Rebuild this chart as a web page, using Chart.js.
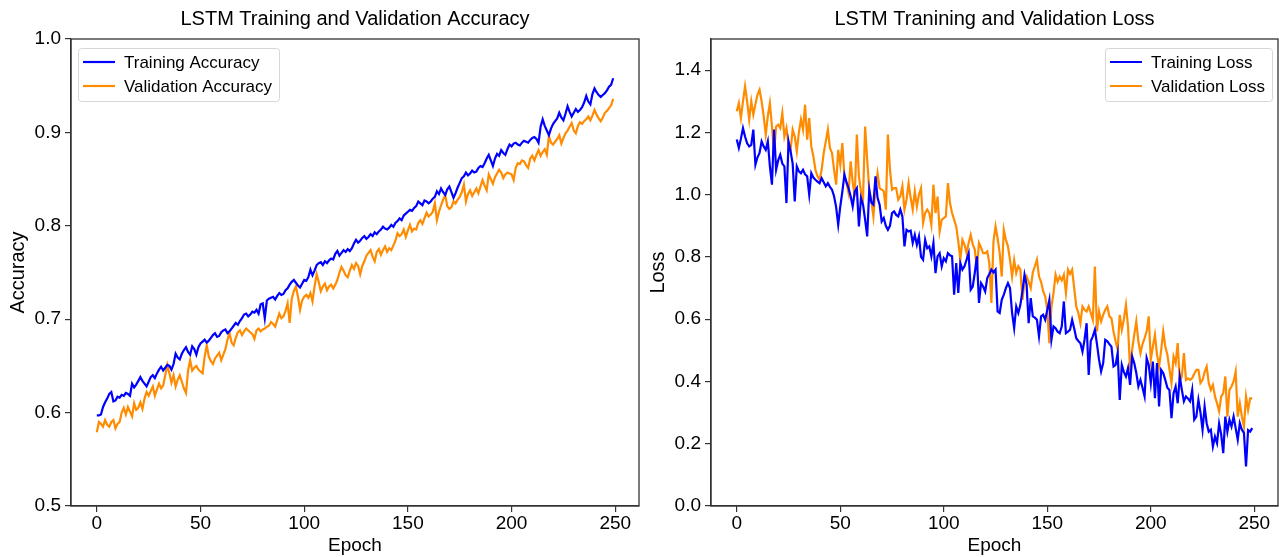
<!DOCTYPE html>
<html>
<head>
<meta charset="utf-8">
<script src="https://cdn.jsdelivr.net/npm/chart.js@4.4.0/dist/chart.umd.min.js"></script>
<style>
  html, body { margin: 0; padding: 0; background: #fff; }
  #wrap { position: relative; width: 1279px; height: 557px; }
  .box { position: absolute; top: 0; height: 557px; }
  #boxAcc { left: 0; width: 640px; }
  #boxLoss { left: 640px; width: 639px; }
</style>
</head>
<body>
<div id="wrap">
  <div class="box" id="boxAcc"><canvas id="graficoAcc"></canvas></div>
  <div class="box" id="boxLoss"><canvas id="graficoLoss"></canvas></div>
</div>
<script>
// valores, uma entrada por epoch (0..249)
const trainAcc = [
  0.597, 0.597, 0.598, 0.606, 0.611, 0.615, 0.620, 0.622, 0.612, 0.613,
  0.617, 0.616, 0.619, 0.618, 0.621, 0.620, 0.618, 0.631, 0.627, 0.630,
  0.634, 0.638, 0.634, 0.631, 0.628, 0.633, 0.638, 0.640, 0.637, 0.642,
  0.646, 0.649, 0.645, 0.648, 0.651, 0.650, 0.646, 0.652, 0.663, 0.659,
  0.657, 0.663, 0.667, 0.670, 0.665, 0.662, 0.671, 0.668, 0.662, 0.670,
  0.674, 0.676, 0.678, 0.675, 0.677, 0.680, 0.683, 0.685, 0.681, 0.682,
  0.686, 0.688, 0.689, 0.685, 0.687, 0.690, 0.693, 0.696, 0.694, 0.698,
  0.701, 0.705, 0.706, 0.703, 0.705, 0.708, 0.707, 0.710, 0.706, 0.716,
  0.717, 0.701, 0.720, 0.722, 0.723, 0.724, 0.721, 0.725, 0.728, 0.726,
  0.727, 0.731, 0.733, 0.737, 0.740, 0.742, 0.739, 0.736, 0.734, 0.738,
  0.742, 0.741, 0.745, 0.753, 0.747, 0.752, 0.758, 0.760, 0.761, 0.758,
  0.762, 0.760, 0.763, 0.765, 0.764, 0.770, 0.773, 0.768, 0.771, 0.774,
  0.772, 0.775, 0.773, 0.776, 0.781, 0.785, 0.782, 0.784, 0.787, 0.789,
  0.786, 0.788, 0.791, 0.789, 0.793, 0.791, 0.794, 0.796, 0.799, 0.797,
  0.796, 0.798, 0.801, 0.799, 0.803, 0.805, 0.808, 0.806, 0.811, 0.813,
  0.815, 0.817, 0.816, 0.819, 0.821, 0.826, 0.824, 0.822, 0.827, 0.826,
  0.824, 0.826, 0.829, 0.831, 0.837, 0.834, 0.840, 0.836, 0.833, 0.839,
  0.842, 0.836, 0.830, 0.835, 0.841, 0.846, 0.851, 0.853, 0.857, 0.854,
  0.856, 0.859, 0.857, 0.858, 0.862, 0.864, 0.863, 0.867, 0.872, 0.876,
  0.870, 0.864, 0.872, 0.877, 0.875, 0.881, 0.878, 0.876, 0.882, 0.887,
  0.885, 0.888, 0.889, 0.887, 0.886, 0.889, 0.891, 0.890, 0.889, 0.892,
  0.894, 0.895, 0.893, 0.889, 0.906, 0.914, 0.907, 0.902, 0.897, 0.904,
  0.909, 0.912, 0.915, 0.921, 0.916, 0.913, 0.920, 0.928, 0.922, 0.917,
  0.921, 0.925, 0.922, 0.924, 0.927, 0.932, 0.939, 0.933, 0.930, 0.941,
  0.947, 0.943, 0.940, 0.938, 0.940, 0.942, 0.945, 0.949, 0.951, 0.958
];
const valAcc = [
  0.579, 0.590, 0.588, 0.585, 0.592, 0.587, 0.585, 0.590, 0.592, 0.583,
  0.588, 0.590, 0.600, 0.605, 0.598, 0.606, 0.601, 0.596, 0.610, 0.603,
  0.605, 0.611, 0.604, 0.615, 0.622, 0.618, 0.623, 0.628, 0.618, 0.625,
  0.631, 0.626, 0.629, 0.640, 0.651, 0.642, 0.632, 0.640, 0.628, 0.635,
  0.640, 0.633, 0.626, 0.621, 0.645, 0.656, 0.645, 0.648, 0.650, 0.646,
  0.644, 0.642, 0.660, 0.672, 0.660, 0.655, 0.652, 0.658, 0.661, 0.664,
  0.656, 0.662, 0.668, 0.678, 0.685, 0.675, 0.672, 0.680, 0.686, 0.688,
  0.683, 0.687, 0.690, 0.688, 0.686, 0.684, 0.679, 0.688, 0.690, 0.687,
  0.689, 0.690, 0.692, 0.693, 0.697, 0.695, 0.692, 0.699, 0.706, 0.701,
  0.703, 0.709, 0.717, 0.696, 0.722, 0.730, 0.735, 0.724, 0.710, 0.720,
  0.724, 0.726, 0.723, 0.728, 0.719, 0.735, 0.748, 0.740, 0.730, 0.735,
  0.738, 0.731, 0.735, 0.737, 0.733, 0.737, 0.742, 0.750, 0.756, 0.752,
  0.747, 0.745, 0.752, 0.758, 0.754, 0.760, 0.757, 0.748, 0.757, 0.762,
  0.768, 0.771, 0.774, 0.767, 0.762, 0.772, 0.775, 0.769, 0.774, 0.778,
  0.772, 0.776, 0.774, 0.779, 0.784, 0.792, 0.789, 0.791, 0.796, 0.788,
  0.795, 0.801, 0.794, 0.797, 0.796, 0.803, 0.806, 0.802, 0.808, 0.814,
  0.810, 0.812, 0.815, 0.824, 0.806, 0.815, 0.822, 0.828, 0.833, 0.821,
  0.818, 0.820, 0.826, 0.824, 0.828, 0.831, 0.836, 0.844, 0.826, 0.834,
  0.838, 0.832, 0.836, 0.840, 0.835, 0.842, 0.849, 0.843, 0.838, 0.855,
  0.850, 0.845, 0.852, 0.856, 0.860, 0.857, 0.851, 0.855, 0.857, 0.856,
  0.855, 0.849, 0.862, 0.867, 0.866, 0.870, 0.869, 0.865, 0.862, 0.872,
  0.875, 0.870, 0.876, 0.881, 0.875, 0.879, 0.882, 0.876, 0.896, 0.889,
  0.887, 0.890, 0.893, 0.897, 0.888, 0.894, 0.899, 0.902, 0.906, 0.910,
  0.902, 0.899, 0.907, 0.911, 0.909, 0.912, 0.914, 0.917, 0.913, 0.918,
  0.924, 0.919, 0.915, 0.912, 0.916, 0.921, 0.923, 0.926, 0.929, 0.936
];
const trainLoss = [
  1.177, 1.150, 1.180, 1.214, 1.187, 1.165, 1.155, 1.160, 1.209, 1.096,
  1.120, 1.134, 1.171, 1.155, 1.144, 1.171, 1.091, 1.032, 1.209, 1.080,
  1.110, 1.128, 1.100, 1.091, 0.973, 1.171, 1.139, 1.100, 0.978, 1.091,
  1.075, 1.069, 1.080, 1.065, 1.059, 1.000, 1.069, 1.055, 1.048, 1.042,
  1.037, 1.053, 1.040, 1.027, 1.037, 1.025, 1.016, 0.995, 0.960, 0.903,
  0.962, 1.010, 1.064, 1.040, 1.021, 0.995, 0.962, 1.010, 1.021, 0.898,
  0.990, 0.968, 0.920, 0.866, 1.016, 0.975, 0.968, 1.059, 0.990, 0.968,
  0.914, 0.925, 0.900, 0.887, 0.900, 0.941, 0.946, 0.935, 0.930, 0.952,
  0.930, 0.834, 0.887, 0.882, 0.885, 0.845, 0.871, 0.839, 0.866, 0.800,
  0.791, 0.855, 0.828, 0.834, 0.802, 0.845, 0.748, 0.802, 0.812, 0.770,
  0.796, 0.786, 0.812, 0.805, 0.802, 0.679, 0.780, 0.684, 0.780, 0.759,
  0.770, 0.791, 0.812, 0.695, 0.705, 0.750, 0.802, 0.652, 0.716, 0.705,
  0.689, 0.732, 0.745, 0.759, 0.750, 0.759, 0.625, 0.620, 0.662, 0.679,
  0.700, 0.716, 0.700, 0.620, 0.571, 0.641, 0.620, 0.646, 0.690, 0.743,
  0.711, 0.587, 0.668, 0.609, 0.605, 0.598, 0.545, 0.609, 0.614, 0.598,
  0.630, 0.662, 0.534, 0.577, 0.571, 0.560, 0.555, 0.577, 0.657, 0.555,
  0.560, 0.566, 0.598, 0.570, 0.539, 0.530, 0.523, 0.496, 0.534, 0.587,
  0.421, 0.530, 0.545, 0.566, 0.520, 0.470, 0.432, 0.459, 0.534, 0.529,
  0.520, 0.512, 0.448, 0.453, 0.491, 0.341, 0.453, 0.430, 0.416, 0.443,
  0.389, 0.480, 0.459, 0.427, 0.384, 0.405, 0.380, 0.352, 0.475, 0.453,
  0.395, 0.464, 0.346, 0.459, 0.320, 0.437, 0.427, 0.405, 0.380, 0.373,
  0.282, 0.362, 0.384, 0.330, 0.416, 0.373, 0.336, 0.352, 0.345, 0.336,
  0.373, 0.277, 0.287, 0.341, 0.300, 0.245, 0.320, 0.266, 0.239, 0.245,
  0.191, 0.223, 0.202, 0.265, 0.230, 0.170, 0.287, 0.239, 0.277, 0.255,
  0.287, 0.250, 0.213, 0.266, 0.245, 0.235, 0.127, 0.244, 0.239, 0.250
];
const valLoss = [
  1.268, 1.294, 1.246, 1.300, 1.348, 1.300, 1.241, 1.300, 1.257, 1.290,
  1.321, 1.337, 1.300, 1.252, 1.193, 1.252, 1.294, 1.219, 1.134, 1.219,
  1.225, 1.214, 1.262, 1.187, 1.214, 1.160, 1.144, 1.209, 1.187, 1.139,
  1.200, 1.241, 1.209, 1.289, 1.177, 1.246, 1.155, 1.123, 1.080, 1.059,
  1.048, 1.080, 1.134, 1.171, 1.209, 1.150, 1.134, 1.080, 1.032, 1.144,
  1.096, 1.166, 1.059, 1.037, 1.005, 1.107, 1.040, 0.995, 1.193, 1.059,
  1.010, 0.989, 1.219, 1.112, 1.016, 0.980, 0.930, 1.021, 1.069, 1.021,
  1.016, 1.011, 0.952, 1.193, 1.080, 1.016, 1.021, 1.021, 0.984, 0.995,
  1.027, 0.952, 0.984, 1.037, 0.990, 0.952, 1.011, 0.962, 1.000, 1.021,
  0.909, 0.941, 0.952, 0.941, 0.903, 1.032, 0.941, 0.994, 0.882, 0.919,
  0.925, 0.930, 1.037, 0.973, 0.941, 0.920, 0.898, 0.850, 0.791, 0.855,
  0.840, 0.812, 0.845, 0.871, 0.840, 0.823, 0.759, 0.845, 0.830, 0.812,
  0.812, 0.818, 0.780, 0.652, 0.850, 0.898, 0.860, 0.812, 0.737, 0.887,
  0.855, 0.834, 0.790, 0.737, 0.790, 0.748, 0.770, 0.759, 0.662, 0.720,
  0.737, 0.720, 0.700, 0.750, 0.770, 0.791, 0.737, 0.720, 0.690, 0.673,
  0.630, 0.523, 0.640, 0.684, 0.743, 0.720, 0.737, 0.725, 0.743, 0.684,
  0.759, 0.745, 0.759, 0.700, 0.641, 0.620, 0.587, 0.641, 0.630, 0.625,
  0.641, 0.620, 0.598, 0.769, 0.561, 0.625, 0.593, 0.614, 0.630, 0.641,
  0.609, 0.603, 0.560, 0.529, 0.502, 0.614, 0.566, 0.600, 0.646, 0.577,
  0.437, 0.502, 0.550, 0.593, 0.529, 0.491, 0.520, 0.539, 0.561, 0.609,
  0.470, 0.512, 0.550, 0.486, 0.448, 0.500, 0.561, 0.512, 0.486, 0.440,
  0.395, 0.480, 0.459, 0.523, 0.400, 0.416, 0.491, 0.405, 0.410, 0.405,
  0.411, 0.425, 0.437, 0.437, 0.395, 0.405, 0.430, 0.448, 0.395, 0.373,
  0.389, 0.352, 0.330, 0.304, 0.352, 0.362, 0.416, 0.287, 0.373, 0.384,
  0.400, 0.432, 0.287, 0.330, 0.287, 0.255, 0.352, 0.309, 0.346, 0.346
];
const epochTicks = [0, 50, 100, 150, 200, 250];
const accTicks = [0.5, 0.6, 0.7, 0.8, 0.9, 1.0];
const lossTicks = [0.0, 0.2, 0.4, 0.6, 0.8, 1.0, 1.2, 1.4];

Chart.defaults.font.family = '"Liberation Sans", Arial, sans-serif';
Chart.defaults.color = '#000';

// moldura completa em volta da area do grafico (estilo matplotlib)
const moldura = {
  id: 'moldura',
  afterDatasetsDraw(chart) {
    const { ctx, chartArea: a } = chart;
    ctx.save();
    ctx.strokeStyle = '#333';
    ctx.lineWidth = 1.3;
    ctx.strokeRect(a.left, a.top, a.right - a.left, a.bottom - a.top);
    ctx.restore();
  }
};

// legenda desenhada dentro da area do grafico
const legenda = {
  id: 'legenda',
  afterDraw(chart, args, opts) {
    const { ctx, chartArea: a } = chart;
    const sets = chart.data.datasets;
    ctx.save();
    ctx.font = '17px "Liberation Sans", Arial, sans-serif';
    const textW = Math.max(...sets.map(d => ctx.measureText(d.label).width));
    const w = 46 + textW + 7;
    const h = 53;
    const x = opts.lado === 'direita' ? a.right - 6 - w : a.left + 7;
    const y = a.top + 9;
    ctx.fillStyle = 'rgba(255,255,255,0.8)';
    ctx.strokeStyle = '#d6d6d6';
    ctx.lineWidth = 1;
    ctx.beginPath();
    ctx.roundRect(x + 0.5, y + 0.5, w, h, 3);
    ctx.fill();
    ctx.stroke();
    sets.forEach((d, i) => {
      const ly = y + 14 + i * 24;
      ctx.strokeStyle = d.borderColor;
      ctx.lineWidth = 2.2;
      ctx.beginPath();
      ctx.moveTo(x + 5, ly);
      ctx.lineTo(x + 37, ly);
      ctx.stroke();
      ctx.fillStyle = '#000';
      ctx.textBaseline = 'middle';
      ctx.fillText(d.label, x + 46, ly + 1);
    });
    ctx.restore();
  }
};

function serie(valores) {
  return valores.map((v, i) => ({ x: i, y: v }));
}

function criarGrafico(id, titulo, rotuloY, treino, valid, nomes, yMin, yMax, yTicks, lado) {
  return new Chart(document.getElementById(id), {
    type: 'line',
    data: {
      datasets: [
        { label: nomes[0], data: serie(treino), borderColor: '#0000ff', borderWidth: 2.2, pointRadius: 0, tension: 0, fill: false },
        { label: nomes[1], data: serie(valid), borderColor: '#ff8c00', borderWidth: 2.2, pointRadius: 0, tension: 0, fill: false }
      ]
    },
    options: {
      responsive: true,
      maintainAspectRatio: false,
      animation: false,
      layout: { padding: { left: 0, right: 1, top: 0, bottom: 0 } },
      plugins: {
        legend: { display: false },
        tooltip: { enabled: false },
        title: {
          display: true, text: titulo, fullSize: false, color: '#000',
          font: { size: 20, weight: 'normal' }, padding: { top: 7, bottom: 8 }
        },
        legenda: { lado }
      },
      scales: {
        x: {
          type: 'linear', min: -12.45, max: 261.45,
          afterBuildTicks: s => { s.ticks = epochTicks.map(v => ({ value: v })); },
          afterFit: s => { s.height = 51; },
          grid: { drawOnChartArea: false, drawTicks: true, tickLength: 6, color: '#333', lineWidth: 1.2 },
          border: { display: true, color: '#333', width: 1.3 },
          ticks: { color: '#000', font: { size: 19 }, padding: 0, maxRotation: 0 },
          title: { display: true, text: 'Epoch', color: '#000', font: { size: 19 }, padding: { top: 0, bottom: 0 } }
        },
        y: {
          type: 'linear', min: yMin, max: yMax,
          afterBuildTicks: s => { s.ticks = yTicks.map(v => ({ value: v })); },
          afterFit: s => { s.width = 71; },
          grid: { drawOnChartArea: false, drawTicks: true, tickLength: 6, color: '#333', lineWidth: 1.2 },
          border: { display: true, color: '#333', width: 1.3 },
          ticks: { color: '#000', font: { size: 19 }, padding: 4, callback: v => Number(v).toFixed(1) },
          title: { display: true, text: rotuloY, color: '#000', font: { size: 20 }, padding: { top: 6, bottom: 0 } }
        }
      }
    },
    plugins: [moldura, legenda]
  });
}

criarGrafico('graficoAcc', 'LSTM Training and Validation Accuracy', 'Accuracy',
  trainAcc, valAcc, ['Training Accuracy', 'Validation Accuracy'], 0.5, 1.0, accTicks, 'esquerda');
criarGrafico('graficoLoss', 'LSTM Tranining and Validation Loss', 'Loss',
  trainLoss, valLoss, ['Training Loss', 'Validation Loss'], 0.0, 1.5, lossTicks, 'direita');
</script>
</body>
</html>
